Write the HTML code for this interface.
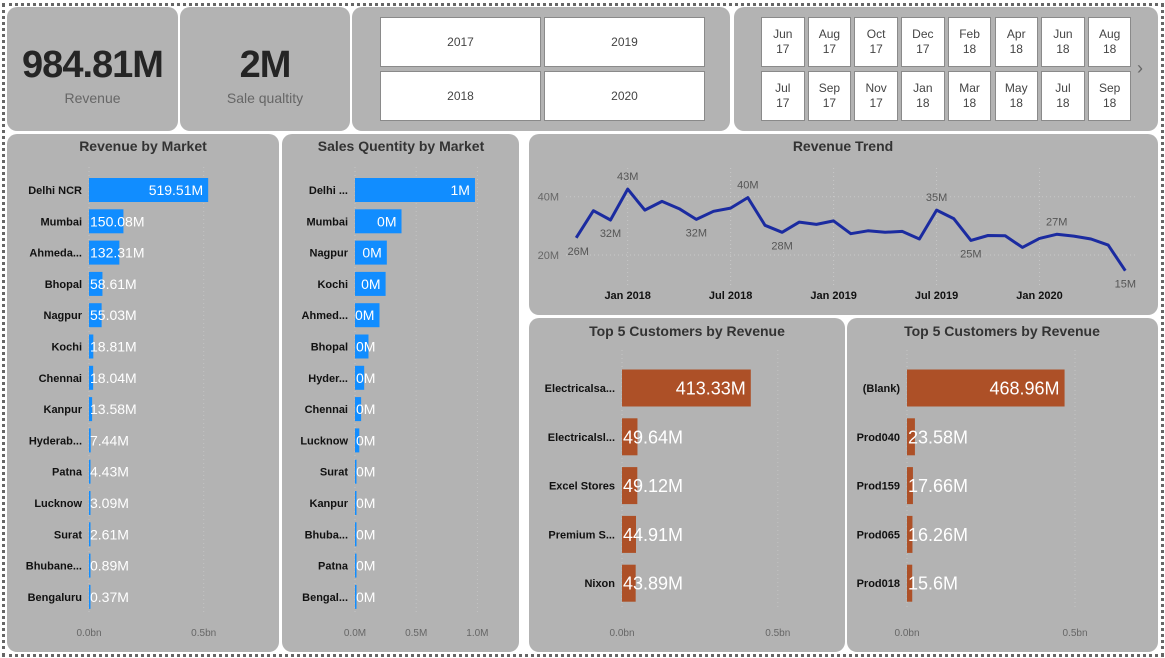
<!DOCTYPE html>
<html><head><meta charset="utf-8">
<style>
html,body{margin:0;padding:0;background:#fff;width:1165px;height:658px;overflow:hidden;font-family:"Liberation Sans",sans-serif;}
#frame{position:absolute;left:2px;top:3px;width:1156px;height:648px;border:3px dotted #666;}
.card{position:absolute;background:#b3b3b3;border-radius:10px;}
.kpi-val{position:absolute;width:100%;text-align:center;font-weight:bold;font-size:38px;color:#252525;letter-spacing:-1px;}
.kpi-lbl{position:absolute;width:100%;text-align:center;font-size:14px;color:#666;}
.tile{position:absolute;background:#fff;border:1.5px solid #8a8a8a;box-sizing:border-box;display:flex;align-items:center;justify-content:center;text-align:center;font-size:12px;color:#444;line-height:15px;}
svg{position:absolute;left:0;top:0;}
</style></head>
<body>
<div id="frame"></div>
<div class="card" style="left:7px;top:7px;width:171px;height:124px;">
  <div class="kpi-val" style="top:37px;">984.81M</div>
  <div class="kpi-lbl" style="top:83px;">Revenue</div>
</div>
<div class="card" style="left:180px;top:7px;width:170px;height:124px;">
  <div class="kpi-val" style="top:37px;">2M</div>
  <div class="kpi-lbl" style="top:83px;">Sale qualtity</div>
</div>
<div class="card" style="left:352px;top:7px;width:378px;height:124px;"></div>
<div class="card" style="left:734px;top:7px;width:424px;height:124px;"></div>
<div class="card" style="left:7px;top:134px;width:272px;height:518px;"></div>
<div class="card" style="left:282px;top:134px;width:237px;height:518px;"></div>
<div class="card" style="left:529px;top:134px;width:629px;height:181px;"></div>
<div class="card" style="left:529px;top:318px;width:316px;height:334px;"></div>
<div class="card" style="left:847px;top:318px;width:311px;height:334px;"></div>

<div id="tiles"></div>
<svg id="chart" width="1165" height="658"></svg>

<script>
const years = ["2017","2019","2018","2020"];
const monthTop = ["Jun\n17","Aug\n17","Oct\n17","Dec\n17","Feb\n18","Apr\n18","Jun\n18","Aug\n18"];
const monthBot = ["Jul\n17","Sep\n17","Nov\n17","Jan\n18","Mar\n18","May\n18","Jul\n18","Sep\n18"];

const marketNames = ["Delhi NCR","Mumbai","Ahmeda...","Bhopal","Nagpur","Kochi","Chennai","Kanpur","Hyderab...","Patna","Lucknow","Surat","Bhubane...","Bengaluru"];
const marketRevenue = [519.51,150.08,132.31,58.61,55.03,18.81,18.04,13.58,7.44,4.43,3.09,2.61,0.89,0.37];
const revTicks = ["0.0bn","0.5bn"];

const qtyNames = ["Delhi ...","Mumbai","Nagpur","Kochi","Ahmed...","Bhopal","Hyder...","Chennai","Lucknow","Surat","Kanpur","Bhuba...","Patna","Bengal..."];
const qtyValues = [0.98,0.38,0.26,0.25,0.2,0.11,0.075,0.05,0.035,0.012,0.01,0.01,0.004,0.003];
const qtyLabels = ["1M","0M","0M","0M","0M","0M","0M","0M","0M","0M","0M","0M","0M","0M"];
const qtyTicks = ["0.0M","0.5M","1.0M"];

const trendValues = [25.9,35.2,32,42.6,35.4,38.4,35.9,32.2,35,36.1,39.7,30.2,27.8,31.3,30.5,31.7,27.3,28.3,27.8,28.1,25.5,35.4,32.5,25,26.7,26.6,22.6,25.7,27.1,26.5,25.5,23.4,14.6];
const trendLabelIdx = [0,2,3,7,10,12,21,23,28,32];
const trendLabelPos = ["b","b","a","b","a","b","a","b","a","b"];
const trendXTicks = ["Jan 2018","Jul 2018","Jan 2019","Jul 2019","Jan 2020"];
const trendXTickIdx = [3,9,15,21,27];
const trendYTicks = [20,40];

const custNames = ["Electricalsa...","Electricalsl...","Excel Stores","Premium S...","Nixon"];
const custValues = [413.33,49.64,49.12,44.91,43.89];
const prodNames = ["(Blank)","Prod040","Prod159","Prod065","Prod018"];
const prodValues = [468.96,23.58,17.66,16.26,15.6];
const topTicks = ["0.0bn","0.5bn"];

// ---- slicer tiles
const tiles = document.getElementById('tiles');
years.forEach((y,i)=>{
  const d=document.createElement('div');
  d.className='tile';
  
  
  const c=i%2, r=Math.floor(i/2);
  d.style.cssText=`left:${380+c*164}px;top:${17+r*54}px;width:161px;height:50px;`;
  d.textContent=y; tiles.appendChild(d);
});
[monthTop,monthBot].forEach((row,r)=>row.forEach((m,i)=>{
  const d=document.createElement('div');
  d.className='tile';
  
  
  d.style.cssText=`left:${761+i*46.7}px;top:${17+r*54}px;width:43.5px;height:50px;`;
  d.innerHTML=m.replace('\n','<br>'); tiles.appendChild(d);
}));
const arrow=document.createElement('div');


arrow.style.cssText='position:absolute;left:1137px;top:58px;font-size:18px;color:#666;';
arrow.textContent='›'; tiles.appendChild(arrow);

// ---- svg helpers
const svg=document.getElementById('chart');
const NS='http://www.w3.org/2000/svg';
function el(tag,attrs,parent){const e=document.createElementNS(NS,tag);for(const k in attrs)e.setAttribute(k,attrs[k]);(parent||svg).appendChild(e);return e;}
function text(x,y,s,attrs){const t=el('text',Object.assign({x:x,y:y,'font-family':'"Liberation Sans",sans-serif'},attrs));t.textContent=s;return t;}

function title(x,y,s,name){const t=text(x,y,s,{'font-size':14,'font-weight':'bold','fill':'#333','text-anchor':'middle'});

}

title(143,151,'Revenue by Market','revenue-by-market-title');
title(401,151,'Sales Quentity by Market','quantity-by-market-title');
title(843,151,'Revenue Trend','revenue-trend-title');
title(687,336,'Top 5 Customers by Revenue','top-customers-title');
title(1002,336,'Top 5 Customers by Revenue','top-products-title');

// generic bar chart
function barChart(o){
  const sx=v=>o.x0+v/o.unit*o.unitPx;
  o.ticks.forEach((t,i)=>{
    const x=o.x0+i*o.unitPx;
    const g=el('line',{x1:x,x2:x,y1:o.gridTop,y2:o.gridBot,stroke:'#c4c4c4','stroke-dasharray':'1,3'});
    
    
    const tl=text(x,o.tickY,t,{'font-size':10,'fill':'#666','text-anchor':'middle'});
    
    
  });
  o.names.forEach((n,i)=>{
    const y=o.y0+i*o.step;
    const v=o.values[i];
    const w=Math.max(sx(v)-o.x0,1.5);
    const r=el('rect',{x:o.x0,y:y-o.bh/2,width:w,height:o.bh,fill:o.color});
    
    
    const c=text(o.x0-7,y+4,n,{'font-size':11,'font-weight':'bold','fill':'#111','text-anchor':'end'});
    
    
    const lab=o.labels?o.labels[i]:(v.toFixed(2).replace(/0$/,'').replace(/\.$/,'')+'M');
    const lw=lab.length*o.fs*0.52;
    let lx,anchor;
    if(w>lw+8){lx=o.x0+w-5;anchor='end';}else{lx=o.x0+1;anchor='start';}
    const l=text(lx,y+o.fs*0.36,lab,{'font-size':o.fs,'fill':'#fff','text-anchor':anchor});
    
    
  });
}
barChart({names:marketNames,values:marketRevenue,labels:marketRevenue.map(v=>v.toFixed(2)+'M'),ticks:revTicks,x0:89,unit:500,unitPx:114.7,y0:190,step:31.3,bh:24,gridTop:167,gridBot:612,tickY:636,color:'#118dff',fs:14});
barChart({names:qtyNames,values:qtyValues,labels:qtyLabels,ticks:qtyTicks,x0:355,unit:0.5,unitPx:61.2,y0:190,step:31.3,bh:24,gridTop:167,gridBot:612,tickY:636,color:'#118dff',fs:14});
barChart({names:custNames,values:custValues,labels:custValues.map(v=>v.toFixed(2)+'M'),ticks:topTicks,x0:622,unit:500,unitPx:155.8,y0:388,step:48.8,bh:37,gridTop:350,gridBot:610,tickY:636,color:'#ad5027',fs:18});
barChart({names:prodNames,values:prodValues,labels:prodValues.map(v=>String(+v.toFixed(2))+'M'),ticks:topTicks,x0:907,unit:500,unitPx:168,y0:388,step:48.8,bh:37,gridTop:350,gridBot:610,tickY:636,color:'#ad5027',fs:18});

// ---- line chart
const tx=i=>576.2+i*17.16;
const ty=v=>255-(v-20)*(58.3/20);
trendYTicks.forEach(v=>{
  const g=el('line',{x1:566,x2:1135,y1:ty(v),y2:ty(v),stroke:'#c8c8c8','stroke-dasharray':'1,3'});
  
  
  const t=text(559,ty(v)+4,v+'M',{'font-size':11,'fill':'#666','text-anchor':'end'});
  
  
});
trendXTicks.forEach((s,k)=>{
  const x=tx(trendXTickIdx[k]);
  const g=el('line',{x1:x,x2:x,y1:168,y2:285,stroke:'#c8c8c8','stroke-dasharray':'1,3'});
  
  
  const t=text(x,299,s,{'font-size':11,'font-weight':'bold','fill':'#111','text-anchor':'middle'});
  
  
});
const pts=trendValues.map((v,i)=>tx(i).toFixed(1)+','+ty(v).toFixed(1)).join(' ');
const pl=el('polyline',{points:pts,fill:'none',stroke:'#1b2ba0','stroke-width':3,'stroke-linejoin':'round'});


trendLabelIdx.forEach((i,k)=>{
  const y=trendLabelPos[k]==='a'?ty(trendValues[i])-9:ty(trendValues[i])+17;
  const t=text(tx(i)+(i===0?2:0),y,Math.round(trendValues[i])+'M',{'font-size':11,'fill':'#555','text-anchor':'middle'});
  
  
});
</script>
</body></html>
